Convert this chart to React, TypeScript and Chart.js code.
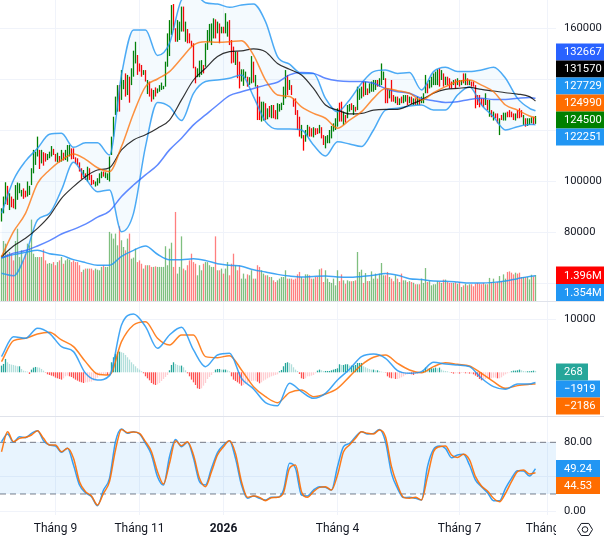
import React, { useEffect, useRef } from "react";
import { Chart, registerables } from "chart.js";

Chart.register(...registerables);

// ---------- Data ----------
const barHighsK = [
  89.5, 94.1, 99.7, 98.3, 95.4, 94.1, 93.2, 98.6, 99.6, 99.3,
  96.7, 97.3, 96.4, 100, 98.3, 105.2, 112.4, 111.7, 117.6, 112.4,
  112.4, 111.5, 111.1, 110.8, 111.7, 113.9, 112.8, 110.8, 111.3, 110,
  112.4, 111.3, 112.4, 114.3, 114.3, 113, 113, 109.5, 109.1, 107.5,
  105.2, 104.5, 103.2, 105.8, 105.2, 102.6, 100.6, 100, 101.3, 103.2,
  103.9, 103.9, 103.6, 103.2, 109.8, 117.6, 125.4, 133.3, 137.8, 137.8,
  143.7, 139.8, 142.4, 141.8, 141.1, 144.4, 151.3, 154.8, 149.6, 146.3,
  145.7, 143.7, 143.7, 139.8, 139.2, 136.5, 135.9, 136.9, 136.5, 137.8,
  138.8, 137.5, 147, 158.1, 163.3, 169.2, 169.6, 160.1, 163.3, 162.7,
  168.6, 168.6, 162.7, 159.8, 158.1, 155.2, 154.2, 145, 144.4, 147.4,
  147.6, 145.7, 154.2, 159.4, 161.8, 162, 164, 163.6, 162.7, 162,
  160.7, 160.7, 166, 162.7, 163.3, 155.5, 152.9, 150.9, 150.9, 147,
  144, 144, 143.1, 141.1, 140.9, 149.2, 147, 141.8, 137.8, 133.3,
  131.3, 131.3, 130.7, 128.7, 129.6, 130, 130, 128, 130.7, 130.4,
  130.9, 137.2, 143.7, 141.8, 139.8, 137.8, 132.6, 132.6, 128, 125.4,
  122.2, 118.2, 120.2, 122.2, 121.5, 120.9, 121.3, 120.9, 120.9, 122.2,
  121.3, 118.2, 117.8, 118.2, 120.2, 121.8, 122.8, 124.8, 128.7, 130.9,
  131.3, 127.4, 126.1, 130, 130.4, 130.7, 130, 129.3, 137.2, 136.5,
  137.2, 139.2, 139.2, 136.5, 138.5, 139.2, 139.8, 139.8, 139.8, 140.5,
  146.3, 143.1, 140.5, 136.5, 135.9, 139.8, 133.9, 133.3, 133.3, 132.6,
  133.3, 133.9, 133.9, 133.9, 133.3, 133.3, 132.6, 132.6, 133.3, 132.6,
  133.3, 134.6, 141.8, 138.5, 139.8, 141.1, 142.4, 143.1, 144, 144.4,
  143.7, 142.4, 141.1, 141.1, 140.5, 139.2, 139.8, 140.1, 140.5, 139.8,
  139.8, 142.4, 142.4, 140.5, 139.8, 139.2, 139.2, 137.8, 133.9, 133.9,
  132.6, 132.6, 134.6, 132, 132, 128, 127.4, 126.7, 126.7, 124.8,
  126.1, 127, 127, 127.4, 128, 127.4, 126.7, 126.7, 128, 128.7,
  128, 126.1, 124.8, 124.8, 124.8, 125.2, 125.4, 125.7,
];
const barLowsK = [
  84.3, 87.5, 91.2, 90.8, 88.8, 89.9, 89.5, 89.1, 92.8, 95.4,
  94.1, 93.2, 93.8, 94.1, 94.7, 98.6, 103.2, 106.5, 109.8, 104.9,
  107.1, 106.2, 107.8, 108.4, 109.1, 109.8, 110.4, 107.8, 107.5, 107.5,
  107.8, 108.2, 108.4, 107.8, 109.8, 108.7, 108.8, 107.1, 106.5, 103.9,
  101, 101.7, 100.6, 100, 100.6, 98.6, 98.9, 98, 98.4, 99.3,
  101.3, 101.9, 101.3, 100.6, 100, 110.4, 117.6, 126.1, 127.4, 127.4,
  132, 136.2, 133.3, 133.9, 130.9, 137.8, 141.1, 146.3, 141.8, 143.1,
  141.1, 141.8, 139.2, 134.3, 133.3, 131.3, 132.2, 133.3, 134.6, 135.2,
  135.9, 136.2, 137.2, 145, 149.2, 157.5, 159.4, 154.8, 154.8, 155.5,
  158.8, 158.8, 154.8, 154.2, 154.2, 152.9, 144.4, 138.5, 140.9, 140.9,
  141.8, 142.4, 145, 151.6, 154.8, 153.5, 156.1, 156.1, 158.1, 154.2,
  158.1, 158.1, 158.1, 156.8, 153.5, 146.3, 146.6, 145.7, 140.5, 136.5,
  139.2, 137.5, 140.5, 137.2, 137.9, 138.5, 138.8, 137.2, 124.1, 124.1,
  123.5, 123.9, 124.1, 124.4, 125.2, 124.8, 124.8, 124.4, 124.4, 127.4,
  128, 130, 132.6, 133.9, 135.9, 133.9, 129.3, 126.1, 120.2, 117.6,
  116.9, 112.1, 115.6, 117.6, 117.6, 117.6, 117.3, 118.2, 118.6, 118.9,
  116.9, 114.3, 113, 115, 115, 116.9, 119.6, 120.2, 121.5, 123.5,
  123.5, 122.2, 123.1, 124.8, 127.4, 128, 126.1, 127.4, 128, 132,
  132.6, 133.3, 133.9, 133.9, 134.6, 135.2, 135.2, 135.9, 137.2, 137.2,
  137.8, 139.8, 130.7, 130.7, 132.6, 131.3, 131.3, 130.7, 130, 130,
  130.7, 130.7, 131.3, 130, 130.7, 130.4, 130, 130, 130, 130,
  130.7, 130.7, 134.6, 134.6, 136.5, 136.9, 137.8, 137.8, 137.8, 137.2,
  139.8, 137.2, 137.8, 137.8, 136.5, 136.5, 137.8, 136.5, 137.8, 137.2,
  137.8, 138.5, 137.8, 137.8, 137.8, 137.2, 137.2, 128.7, 130, 129.1,
  130, 129.1, 130, 128, 125.4, 125.2, 123.9, 124.8, 122.8, 118.2,
  124.1, 123.9, 123.9, 125.2, 125.2, 125.2, 124.1, 123.9, 124.8, 124.8,
  125.2, 122.2, 121.5, 121.8, 122.2, 122.8, 122.2, 122.6,
];
const barDirections =
  "gggrgrrggg" + "grrggggggr" + "grrgggrrgr" + "grgggrrrrr" + "rgrgrrrggg" +
  "grgggggggr" + "ggrgrgggrr" + "rgrgrrgrgg" + "ggggggrrgg" + "grgrrrrrgg" +
  "grgggggrgr" + "grggrrrgrr" + "gggrggrgrr" + "ggrgrgrrgg" + "gggrgrrrrr" +
  "grggrrgrrg" + "rrgggggggr" + "rgrggrgrgg" + "grgrggggrg" + "ggrrgrrgrg" +
  "rggrgrgrgr" + "gggrgggggr" + "grgrrrgrgr" + "grgrgrrrrr" + "rrgrgrgrrg" +
  "rggrrrrgrr" + "rgrgggrg";
const volumesM = [
  2.45, 3.22, 3.08, 2.54, 2.63, 2.54, 2.18, 3.22, 3.88, 2.36,
  2.72, 2.18, 2.54, 3.08, 2.99, 4.37, 2.54, 2.36, 2.36, 2.36,
  2.36, 2.76, 2.18, 2.0, 2.04, 2.0, 2.09, 1.92, 2.09, 2.18,
  2.36, 2.0, 2.18, 2.27, 2.22, 2.09, 2.18, 2.09, 2.09, 1.92,
  1.56, 1.68, 1.74, 1.74, 1.74, 1.74, 1.65, 1.74, 1.68, 1.65,
  1.83, 1.92, 1.83, 1.83, 3.71, 3.62, 3.35, 3.62, 2.99, 4.01,
  3.26, 2.9, 2.72, 3.35, 3.62, 2.27, 2.33, 2.81, 2.09, 2.18,
  2.0, 1.74, 1.92, 1.92, 1.92, 1.83, 1.83, 1.86, 1.83, 1.83,
  1.83, 1.83, 2.94, 1.92, 2.81, 3.13, 1.83, 4.78, 1.47, 1.83,
  3.47, 1.74, 1.65, 1.92, 2.18, 2.54, 2.09, 2.0, 1.38, 1.92,
  1.65, 2.0, 2.09, 2.09, 1.92, 1.83, 1.83, 3.47, 1.65, 1.65,
  1.74, 1.47, 1.74, 2.09, 1.38, 2.0, 2.54, 1.92, 1.65, 1.92,
  1.2, 1.47, 1.2, 1.43, 1.38, 1.65, 1.2, 1.2, 1.92, 1.83,
  1.65, 1.47, 1.38, 1.38, 1.29, 1.29, 1.11, 1.02, 1.11, 1.2,
  1.29, 1.29, 1.65, 1.2, 1.2, 1.2, 1.15, 1.2, 1.43, 1.56,
  1.29, 1.2, 1.43, 1.43, 1.38, 1.2, 1.2, 1.29, 1.29, 1.7,
  1.75, 1.02, 1.65, 1.2, 1.02, 0.97, 1.2, 0.84, 1.65, 1.07,
  1.43, 1.11, 0.93, 1.11, 1.06, 1.06, 1.07, 1.11, 2.63, 1.56,
  1.68, 0.97, 1.5, 1.07, 1.07, 1.59, 1.2, 1.47, 1.2, 1.47,
  2.04, 1.38, 1.38, 1.56, 1.29, 1.2, 1.06, 1.38, 1.2, 1.02,
  1.47, 1.11, 1.11, 1.02, 1.07, 1.02, 0.98, 0.9, 0.9, 0.9,
  1.2, 0.97, 1.77, 1.02, 1.07, 0.84, 0.9, 0.9, 1.07, 1.02,
  0.97, 1.15, 1.15, 1.02, 0.97, 0.97, 0.97, 1.0, 0.93, 1.02,
  0.75, 0.84, 0.93, 0.84, 0.9, 0.9, 0.79, 0.93, 0.97, 0.93,
  0.9, 0.97, 0.9, 0.9, 1.24, 1.02, 1.2, 0.97, 1.02, 1.34,
  1.07, 1.43, 1.2, 1.56, 1.59, 1.52, 1.43, 1.52, 1.47, 1.52,
  1.29, 1.29, 1.29, 1.29, 1.16, 1.41, 1.32, 1.396,
];

// Bar numbers at which the slower lines were read.
const lineBars = [
  0, 6, 12, 18, 24, 30, 36, 42, 48, 54, 60, 66, 72, 78, 84, 90, 96, 102, 108, 114, 120, 126, 132, 138,
  144, 150, 156, 162, 168, 174, 180, 186, 192, 198, 204, 210, 216, 222, 228, 234, 240, 246, 252, 258, 264, 267,
];
const bandUpperK = [
  87.5, 100.6, 108, 113, 118.5, 118.9, 113.4, 115.2, 115.2, 110.4, 141.8, 159.4, 159.4, 149.4, 154.2, 171.2, 173.8, 170.1, 169.6, 168.3, 169.2, 169.6, 162.7, 149,
  146, 142.4, 142.4, 132.6, 127.4, 132, 138.5, 143.1, 143.7, 142.4, 142.7, 135.9, 143.1, 144.8, 143.1, 143.1, 143.7, 144.8, 140.5, 132.6, 128.7, 127.729,
];
const bandLowerK = [
  64, 63, 71.2, 84.9, 87.5, 96.7, 107.5, 101.3, 96, 96.7, 80.3, 87.5, 113.7, 131, 129.4, 123.9, 134.6, 139.2, 139.8, 140.5, 141.8, 133.3, 123.5, 120.6,
  120.6, 120.2, 114.3, 110, 115.6, 114.7, 113.7, 120.2, 128, 128.7, 129.6, 130, 128, 128, 133.9, 137.2, 130, 125.4, 120.2, 121.5, 122.4, 122.251,
];
const bandBasisK = [
  70.5, 80.3, 87.5, 99.3, 104.5, 108.4, 110.8, 108.7, 105.4, 103.9, 113.7, 126.7, 137.2, 140.2, 143.1, 148.3, 153.5, 154.8, 154.6, 154.8, 155.2, 149.6, 139.8, 133.9,
  133.3, 129.3, 126.7, 124.8, 120.9, 124.1, 127.4, 132.6, 136.5, 135.6, 134.6, 131.9, 134.8, 137.2, 139.2, 139.8, 137.8, 135.2, 130, 128, 125.7, 124.99,
];
const maMidK = [
  70.5, 74.7, 77.7, 81.6, 86.5, 93.4, 98, 101.9, 104.5, 105.4, 112.4, 116.3, 118.3, 120.9, 124.1, 132, 139.8, 144.4, 149, 150.9, 151.2, 152, 150.9, 146.3,
  144, 141.8, 136.5, 130, 128, 126.5, 126.7, 128, 128.3, 128.3, 130, 132, 134.6, 136.1, 136.5, 136.9, 136.1, 135.5, 134.8, 134.3, 133.3, 131.57,
];
const maLongK = [
  70.1, 71.9, 72.9, 74.7, 76.8, 79.4, 81.2, 83.3, 86, 88.4, 94.1, 98.6, 102.6, 106.5, 112.4, 117, 122.2, 126.1, 130, 133.7, 135.2, 136.5, 137.8, 138.9,
  141.8, 142.7, 142.4, 140.5, 139.5, 139.2, 139.2, 138.5, 136.5, 135.2, 134.6, 132.6, 131.7, 131, 131.3, 132.2, 132.6, 132.2, 132.2, 132.6, 132.9, 132.667,
];
const volumeMaM = [
  2.31, 2.49, 2.61, 2.72, 2.54, 2.45, 2.22, 2.06, 1.92, 1.92, 2.4, 2.72, 2.95, 2.51, 2.22, 2.22, 2.27, 2.18, 2.0, 1.92, 1.86, 1.68, 1.56, 1.43,
  1.34, 1.29, 1.32, 1.34, 1.29, 1.27, 1.32, 1.38, 1.47, 1.38, 1.2, 1.15, 1.07, 1.06, 1.02, 0.97, 0.97, 1, 1.07, 1.2, 1.32, 1.354,
];
const macdLine = [
  2956, 6730, 6416, 8303, 7359, 4843, 3900, -189, -1447, -629, 8932, 11008, 8617, 4529, 7045, 8492, 4214, 1069, 3271, 3585, -1132, -3145, -5724, -6290,
  -2076, -3648, -4906, -3963, -1447, 566, 2956, 3460, 2642, 315, -189, 126, 1887, 1572, 1384, 1069, -1132, -2705, -3208, -2202, -2202, -1919,
];
const macdSignal = [
  2013, 5976, 6416, 7234, 7548, 6101, 4843, 2013, -315, -503, 5787, 8932, 9561, 6416, 5158, 7045, 7045, 2956, 2768, 3145, 440, -2705, -4592, -5724,
  -3837, -3334, -4592, -4089, -3019, -818, 1384, 2831, 3271, 1698, 440, -63, 1069, 1824, 1510, 1195, -189, -1761, -3019, -2516, -2264, -2186,
];
const macdHist = [
  1260, 1575, 2520, 1890, 1575, 1449, 1386, 1260, 1134, 1134,
  630, 315, 189, 126, -315, 504, 882, 1008, 945, 882,
  630, 315, -63, -378, -504, -630, -756, -1008, -1134, -1260,
  -1386, -1134, -756, -630, -756, -882, -1134, -1386, -1575, -1764,
  -1890, -2016, -1890, -1890, -1764, -1764, -1575, -1386, -1008, -630,
  -504, -378, -378, -504, -378, 1890, 2835, 3465, 3780, 3906,
  3780, 3654, 3276, 2835, 2394, 1890, 1512, 1134, 756, 504,
  189, -189, -756, -1134, -1512, -2016, -2268, -2394, -2268, -2016,
  -1638, -1260, -882, -504, 378, 1386, 1890, 1575, 1386, 1260,
  1260, 945, 378, -189, -756, -1386, -1890, -2394, -3024, -3150,
  -3024, -2520, -2016, -1260, -882, -504, -126, 504, 630, 630,
  504, 504, 504, 378, 189, -756, -1386, -1638, -1890, -2142,
  -2520, -2394, -2205, -2016, -1890, -1638, -1575, -1575, -1764, -2079,
  -1890, -1575, -1386, -1134, -945, -756, -630, -504, -378, 189,
  441, 1134, 1764, 1890, 1764, 1512, 945, 504, 252, -315,
  -1134, -1260, -1134, -756, -756, -630, -504, -189, 315, 504,
  378, 252, 252, 252, 252, 378, 504, 630, 756, 1512,
  1386, 1386, 1512, 1512, 1260, 1260, 1260, 1386, 1764, 1764,
  1764, 1134, 945, 756, 630, 504, 504, 378, 378, 252,
  126, 63, -63, -756, -1008, -1134, -1134, -1260, -1260, -1134,
  -945, -756, -504, -378, -315, -378, -504, -315, -315, -189,
  -126, 252, 882, 756, 756, 756, 756, 882, 756, 882,
  504, 315, 252, 189, 63, -126, -252, -189, -189, -252,
  -126, -126, -189, -189, -252, -252, -378, -630, -882, -1260,
  -1512, -1386, -1260, -1134, -1260, -1134, -1008, -1008, -1134, -1134,
  -945, -630, -378, -189, -63, 189, 315, 315, 378, 504,
  378, 252, 189, 189, 189, 252, 315, 268,
];
const stochBars = [
  0, 3, 6, 9, 12, 15, 18, 21, 24, 27, 30, 33, 36, 39, 42, 45, 48, 51, 54, 57, 60, 63, 66, 69, 72, 75, 78, 81, 84, 87,
  90, 93, 96, 99, 102, 105, 108, 111, 114, 117, 120, 123, 126, 129, 132, 135, 138, 141, 144, 147,
  150, 153, 156, 159, 162, 165, 168, 171, 174, 177, 180, 183, 186, 189, 192, 195, 198, 201, 204, 207,
  210, 213, 216, 219, 222, 225, 228, 231, 234, 237, 240, 243, 246, 249, 252, 255, 258, 261, 264, 267,
];
const stochK = [
  80.7, 89.6, 80, 86.5, 85.4, 90.4, 93.5, 81.9, 76.9, 75.7, 68.4, 73, 53.6, 30.4, 21.5, 16.9, 6.4, 24.6, 38.2, 80.7,
  95.4, 90.4, 92.3, 89.6, 78.8, 65.3, 40.1, 30.4, 63.3, 83.4, 74.9, 80, 61.4, 34.3, 30.4, 49.8, 68, 76.9, 81.9, 61.4,
  30.4, 15, 17.7, 15, 13, 16.1, 16.1, 24.6, 55.6, 49.8,
  18.8, 17.7, 24.6, 28.5, 27.7, 24.6, 51.7, 74.9, 78.8, 86.5, 92.3, 89.6, 90.4, 95, 80.7, 44, 26.6, 15.8, 16.1, 15,
  13, 51.7, 71.8, 75.7, 73, 62.2, 65.3, 66, 53.6, 36.2, 28.5, 21.5, 12.2, 12.2, 26.6, 38.2, 47.1, 46.7, 40.9, 49.24,
];
const stochD = [
  69.1, 92.3, 80.7, 84.6, 85.8, 88.5, 93.5, 84.6, 76.9, 76.9, 69.1, 73, 61.4, 34.3, 22.7, 17.7, 7.2, 20.8, 34.3, 71.1,
  95, 91.2, 92, 90.4, 80.7, 69.1, 45.9, 31.6, 55.6, 81.9, 76.1, 80.7, 65.3, 38.2, 28.5, 45.9, 65.3, 74.9, 81.9, 67.2,
  34.3, 16.1, 17.7, 16.1, 12.2, 15.7, 16.1, 21.5, 49.8, 53.6,
  22.7, 16.1, 22.7, 27.7, 28.5, 24.6, 42, 69.1, 76.9, 84.6, 92.3, 90.4, 89.6, 94.3, 86.5, 51.7, 30.4, 16.1, 15, 16.1,
  13, 40.1, 69.1, 74.9, 75.7, 65.3, 62.5, 66, 59.5, 40.1, 29.3, 23.5, 15, 11.1, 20.8, 34.3, 45.9, 47.8, 43.2, 44.53,
];

const monthBars = [27, 69, 111, 168, 229, 273];
const monthLabels = ["Tháng 9", "Tháng 11", "2026", "Tháng 4", "Tháng 7", "Tháng 9"];
const boldMonthLabel = "2026";
const priceGridTicks = [60000, 80000, 100000, 120000, 140000, 160000];
const priceLabelled = [80000, 100000, 160000];
const macdGridTicks = [10000];
const stochGridTicks = [0, 40, 80];
const stochLabelled = [0, 80];
const stochBandEdges = [20, 80];

const mainTagTexts = ["132667", "131570", "127729", "124990", "124500", "122251", "1.396M", "1.354M"];
const macdTagTexts = ["268", "\u22121919", "\u22122186"];
const stochTagTexts = ["49.24", "44.53"];

// ---------- Styling ----------
const GRID = "#f0f3fa";
const TEXT = "#131722";
const FONT = "Roboto, sans-serif";
const BLUE = "#2196f3";
const ORANGE = "#ff6d00";
const PLOT_W = 556;
const AXIS_W = 48;
const X_MIN = -0.75;
const X_MAX = 277.25;
const BAR_W = 1.3;

const mainTagStyle = [
  { top: 43.5, h: 17, w: 48, bg: "#2962ff" },
  { top: 60.5, h: 17, w: 48, bg: "#000000" },
  { top: 77.5, h: 17, w: 48, bg: BLUE },
  { top: 94.5, h: 17, w: 48, bg: ORANGE },
  { top: 111.5, h: 17, w: 48, bg: "#008000" },
  { top: 128.5, h: 17, w: 48, bg: BLUE },
  { top: 266.5, h: 17.5, w: 48, bg: "#ff0000" },
  { top: 284, h: 17, w: 48, bg: BLUE },
];
const macdTagStyle = [
  { top: 61.5, h: 17, w: 32, bg: "#26a69a" },
  { top: 78.5, h: 17, w: 44, bg: BLUE },
  { top: 95.5, h: 17, w: 44, bg: ORANGE },
];
const stochTagStyle = [
  { top: 43, h: 17, w: 44, bg: BLUE },
  { top: 60, h: 17, w: 44, bg: ORANGE },
];

const tagPlugin = (texts: string[], styles: any[], after?: (c: any) => void) => ({
  id: "valueTags",
  afterDraw(chart: any) {
    const c = chart.ctx;
    c.save();
    if (after) after(chart);
    c.font = `11.2px ${FONT}`;
    c.textAlign = "left";
    c.textBaseline = "middle";
    texts.forEach((t, i) => {
      const s = styles[i];
      c.fillStyle = s.bg;
      c.fillRect(PLOT_W, s.top, s.w, s.h);
      c.fillStyle = "#ffffff";
      c.fillText(t, PLOT_W + 8, s.top + s.h / 2 + 0.5);
    });
    c.restore();
  },
});

const zeroPadding = (s: any) => {
  s.paddingTop = 0;
  s.paddingBottom = 0;
  s.paddingLeft = 0;
  s.paddingRight = 0;
};

const timeAxis = (showLabels: boolean) => ({
  type: "linear",
  min: X_MIN,
  max: X_MAX,
  offset: false,
  afterBuildTicks: (s: any) => {
    s.ticks = monthBars.map((v) => ({ value: v }));
  },
  afterFit: (s: any) => {
    s.height = showLabels ? 21 : 0;
    zeroPadding(s);
  },
  border: { display: false },
  grid: { color: GRID, drawTicks: false, offset: false },
  ticks: {
    display: showLabels,
    autoSkip: false,
    maxRotation: 0,
    padding: 7,
    color: TEXT,
    font: (ctx: any) => ({
      family: FONT,
      size: 12,
      weight: ctx.tick && monthLabels[monthBars.indexOf(ctx.tick.value)] === boldMonthLabel ? "bold" : "normal",
    }),
    callback: (v: number) => monthLabels[monthBars.indexOf(v)] ?? "",
  },
});

const valueAxis = (min: number, max: number, gridTicks: number[], label: (v: number) => string) => ({
  type: "linear",
  position: "right",
  min,
  max,
  afterBuildTicks: (s: any) => {
    s.ticks = gridTicks.map((v) => ({ value: v }));
  },
  afterFit: (s: any) => {
    s.width = AXIS_W;
    zeroPadding(s);
  },
  border: { display: false },
  grid: { color: GRID, drawTicks: false },
  ticks: {
    padding: 8,
    color: TEXT,
    autoSkip: false,
    font: { family: FONT, size: 11.2 },
    callback: (v: number) => label(v),
  },
});

const line = (xs: number[], ys: number[], color: string, width: number, extra: any = {}) => ({
  type: "line",
  data: xs.map((x, i) => ({ x, y: ys[i] })),
  borderColor: color,
  borderWidth: width,
  pointRadius: 0,
  cubicInterpolationMode: "monotone",
  fill: false,
  ...extra,
});

const barSet = (data: any[], color: string, extra: any = {}) => ({
  type: "bar",
  grouped: false,
  maxBarThickness: BAR_W,
  barPercentage: 1,
  categoryPercentage: 1,
  inflateAmount: 0,
  borderWidth: 0,
  backgroundColor: color,
  data,
  ...extra,
});

const k = (list: number[]) => list.map((v) => v * 1000);
const isUp = (i: number) => barDirections[i] === "g";
const indexes = barHighsK.map((_, i) => i);
const candles = (pick: (i: number) => boolean) =>
  indexes.filter(pick).map((i) => ({ x: i, y: [barLowsK[i] * 1000, barHighsK[i] * 1000] }));
const volumes = (pick: (i: number) => boolean) =>
  indexes.filter(pick).map((i) => ({ x: i, y: volumesM[i] }));

const baseOptions = {
  animation: false,
  responsive: false,
  devicePixelRatio: 1,
  layout: { padding: 0 },
  plugins: { legend: { display: false }, tooltip: { enabled: false }, title: { display: false } },
  events: [],
};

function makeMain(canvas: HTMLCanvasElement) {
  return new Chart(canvas, {
    type: "bar",
    data: {
      datasets: [
        line(lineBars, k(bandUpperK), "rgba(33,150,243,0.8)", 1.5, {
          yAxisID: "y",
          order: 2,
          fill: { target: 1 },
          backgroundColor: "rgba(33,150,243,0.05)",
        }),
        line(lineBars, k(bandLowerK), "rgba(33,150,243,0.8)", 1.5, { yAxisID: "y", order: 2 }),
        line(lineBars, k(bandBasisK), "rgba(255,109,0,0.75)", 1.5, { yAxisID: "y", order: 1 }),
        line(lineBars, k(maMidK), "rgba(0,0,0,0.8)", 1.2, { yAxisID: "y", order: 1 }),
        line(lineBars, k(maLongK), "rgba(41,98,255,0.75)", 1.5, { yAxisID: "y", order: 1 }),
        line(lineBars, volumeMaM, "rgba(33,150,243,0.85)", 1.5, { yAxisID: "vol", order: 1 }),
        barSet(candles(isUp), "#008000", { yAxisID: "y", order: 3 }),
        barSet(candles((i) => !isUp(i)), "#ff0000", { yAxisID: "y", order: 3 }),
        barSet(volumes(isUp), "rgba(0,128,0,0.5)", { yAxisID: "vol", order: 4 }),
        barSet(volumes((i) => !isUp(i)), "rgba(255,0,0,0.5)", { yAxisID: "vol", order: 4 }),
      ],
    },
    options: {
      ...baseOptions,
      scales: {
        x: timeAxis(false),
        y: valueAxis(53130, 171180, priceGridTicks, (v) => (priceLabelled.includes(v) ? String(v) : "")),
        vol: { type: "linear", display: false, min: 0, max: 16.16, stacked: false },
      },
    },
    plugins: [tagPlugin(mainTagTexts, mainTagStyle)],
  } as any);
}

const histTones: [string, (v: number, prev: number) => boolean][] = [
  ["#26a69a", (v, p) => v >= 0 && v >= p],
  ["#b2dfdb", (v, p) => v >= 0 && v < p],
  ["#ffcdd2", (v, p) => v < 0 && v >= p],
  ["#ff5252", (v, p) => v < 0 && v < p],
];

function makeMacd(canvas: HTMLCanvasElement) {
  const histSets = histTones.map(([color, test]) =>
    barSet(
      macdHist
        .map((v, i) => ({ x: i, y: v, prev: i > 0 ? macdHist[i - 1] : v }))
        .filter((p) => test(p.y, p.prev))
        .map((p) => ({ x: p.x, y: p.y })),
      color,
      { order: 2 }
    )
  );
  return new Chart(canvas, {
    type: "bar",
    data: {
      datasets: [
        line(lineBars, macdLine, "rgba(33,150,243,0.85)", 1.5, { order: 1 }),
        line(lineBars, macdSignal, "rgba(255,109,0,0.85)", 1.5, { order: 1 }),
        ...histSets,
      ],
    },
    options: {
      ...baseOptions,
      scales: {
        x: timeAxis(false),
        y: valueAxis(-8436, 13265, macdGridTicks, (v) => String(v)),
      },
    },
    plugins: [tagPlugin(macdTagTexts, macdTagStyle)],
  } as any);
}

function drawCorner(chart: any) {
  const c = chart.ctx;
  const h = chart.height;
  c.fillStyle = "#ffffff";
  c.fillRect(PLOT_W, chart.chartArea.bottom, AXIS_W, h - chart.chartArea.bottom);
  const cx = 585;
  const cy = 112.5;
  c.strokeStyle = TEXT;
  c.lineWidth = 1;
  c.beginPath();
  for (let a = 0; a < 6; a++) {
    const t = (Math.PI / 3) * a;
    const px = cx + 7.5 * Math.cos(t);
    const py = cy + 7 * Math.sin(t);
    if (a === 0) c.moveTo(px, py);
    else c.lineTo(px, py);
  }
  c.closePath();
  c.stroke();
  c.beginPath();
  c.arc(cx, cy, 2.8, 0, Math.PI * 2);
  c.stroke();
}

function makeStoch(canvas: HTMLCanvasElement) {
  const edge = (v: number) => [
    { x: X_MIN, y: v },
    { x: X_MAX, y: v },
  ];
  return new Chart(canvas, {
    type: "line",
    data: {
      datasets: [
        {
          type: "line",
          data: edge(stochBandEdges[1]),
          borderColor: "#787b86",
          borderWidth: 1,
          borderDash: [6, 4],
          pointRadius: 0,
          fill: { target: 1 },
          backgroundColor: "rgba(33,150,243,0.1)",
          order: 3,
        },
        {
          type: "line",
          data: edge(stochBandEdges[0]),
          borderColor: "#787b86",
          borderWidth: 1,
          borderDash: [6, 4],
          pointRadius: 0,
          fill: false,
          order: 3,
        },
        line(stochBars, stochK, "rgba(33,150,243,0.9)", 1.5, { order: 2 }),
        line(stochBars, stochD, "rgba(255,109,0,0.9)", 1.5, { order: 1 }),
      ],
    },
    options: {
      ...baseOptions,
      scales: {
        x: timeAxis(true),
        y: valueAxis(-4.41, 109.4, stochGridTicks, (v) => (stochLabelled.includes(v) ? v.toFixed(2) : "")),
      },
    },
    plugins: [tagPlugin(stochTagTexts, stochTagStyle, drawCorner)],
  } as any);
}

const canvasStyle = (top: number, height: number): React.CSSProperties => ({
  position: "absolute",
  left: 0,
  top,
  width: 604,
  height,
  display: "block",
});

export default function App() {
  const mainRef = useRef<HTMLCanvasElement>(null);
  const macdRef = useRef<HTMLCanvasElement>(null);
  const stochRef = useRef<HTMLCanvasElement>(null);

  useEffect(() => {
    const charts = [makeMain(mainRef.current!), makeMacd(macdRef.current!), makeStoch(stochRef.current!)];
    return () => charts.forEach((c) => c.destroy());
  }, []);

  return (
    <div style={{ position: "fixed", left: 0, top: 0, width: 604, height: 536, background: "#fff", overflow: "hidden" }}>
      <canvas ref={mainRef} width={604} height={301} style={canvasStyle(0, 301)} />
      <div style={{ position: "absolute", left: 0, top: 301, width: 604, height: 1, background: "#e0e3eb" }} />
      <canvas ref={macdRef} width={604} height={115} style={canvasStyle(302, 115)} />
      <canvas ref={stochRef} width={604} height={119} style={canvasStyle(417, 119)} />
      <div style={{ position: "absolute", left: 0, top: 416, width: 604, height: 1, background: "#e0e3eb" }} />
    </div>
  );
}
